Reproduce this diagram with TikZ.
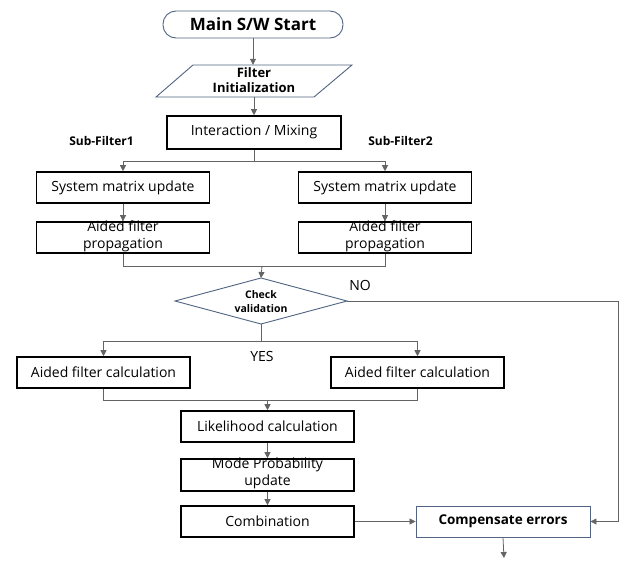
\documentclass[tikz,border=0pt]{standalone}
\usepackage{fontspec}
\setmainfont{Open Sans}
\usetikzlibrary{arrows.meta}
\definecolor{bluegrey}{RGB}{80,100,130}
\definecolor{linegrey}{RGB}{100,100,100}
\tikzset{
  procbox/.style={draw=black, line width=1.6pt, fill=white, minimum width=173pt, minimum height=31pt, inner sep=0pt, align=center, font=\fontsize{14}{17}\selectfont},
  softbox/.style={draw=bluegrey, line width=0.9pt, fill=white, minimum width=174pt, minimum height=31pt, inner sep=0pt, align=center, font=\bfseries\fontsize{13.5}{16}\selectfont},
  conn/.style={draw=linegrey, line width=0.8pt},
  arr/.style={conn, -{Triangle[width=6pt,length=6pt]}},
  boxtext/.style={inner sep=0pt, align=center, font=\fontsize{14}{17}\selectfont},
  lbl/.style={font=\fontsize{14}{16}\selectfont, inner sep=0pt},
  blbl/.style={font=\bfseries\fontsize{12}{14}\selectfont, inner sep=0pt}
}
\begin{document}
\begin{tikzpicture}[x=1pt,y=-1pt]
\useasboundingbox (0,0) rectangle (622,568);
\fill[white] (0,0) rectangle (622,568);

% start
\node[draw=bluegrey, line width=0.9pt, rounded corners=13pt, minimum width=180pt, minimum height=27pt, inner sep=0pt, font=\bfseries\fontsize{17}{19}\selectfont] (start) at (253,24.5) {Main S/W Start};

% initialization (parallelogram)
\draw[bluegrey, line width=0.9pt, fill=white] (193,65) -- (352,65) -- (314,97) -- (156,97) -- cycle;
\node[minimum width=120pt, minimum height=32pt, inner sep=0pt] (init) at (254,81) {};
\node[inner sep=0pt, align=center, font=\bfseries\fontsize{13}{15}\selectfont] at ([yshift=1pt]init.center) {Filter\\Initialization};

\node[procbox, minimum width=174pt, minimum height=33pt] (inter) at (254,132.5) {Interaction / Mixing};
\node[blbl] (sf1) at (101.5,141) {Sub-Filter1};
\node[blbl] (sf2) at (400.5,141) {Sub-Filter2};

\node[procbox] (sys1) at (123,187.5) {System matrix update};
\node[procbox] (sys2) at (385,187.5) {System matrix update};
\node[procbox] (prop1) at (123,237.5) {};
\node[boxtext] at ([yshift=1.5pt]prop1.center) {Aided filter\\propagation};
\node[procbox] (prop2) at (385,237.5) {};
\node[boxtext] at ([yshift=1.5pt]prop2.center) {Aided filter\\propagation};

% diamond
\coordinate (ctop) at (261,278);
\coordinate (cbot) at (261,324);
\coordinate (cleft) at (175,301);
\coordinate (cright) at (347,301);
\draw[bluegrey, line width=0.9pt, fill=white] (ctop) -- (cright) -- (cbot) -- (cleft) -- cycle;
\node[align=center, inner sep=0pt, font=\bfseries\fontsize{10.5}{14}\selectfont] (check) at (261,301.5) {Check\\validation};
\node[lbl] (yes) at (262,356) {YES};
\node[lbl] (no) at (360,285) {NO};

\node[procbox] (calc1) at (103.5,372.5) {Aided filter calculation};
\node[procbox] (calc2) at (417.5,372.5) {Aided filter calculation};

\node[procbox] (like) at (267.5,426.5) {Likelihood calculation};
\node[procbox, minimum height=32pt] (mode) at (267.5,475) {};
\node[boxtext] at ([yshift=1.5pt]mode.center) {Mode Probability\\update};
\node[procbox] (comb) at (267.5,521.5) {Combination};
\node[softbox] (comp) at (503,521.5) {Compensate errors};
\coordinate (endpt) at (504,558);

% connectors
\draw[arr] (start.south) -- (start.south |- init.north);
\draw[arr] (init.south) -- (init.south |- inter.north);
\coordinate (split1) at (254,161);
\draw[conn] (inter.south) -- (split1);
\draw[arr] (split1) -| (sys1.north);
\draw[arr] (split1) -| (sys2.north);
\draw[arr] (sys1) -- (prop1);
\draw[arr] (sys2) -- (prop2);
\coordinate (merge1) at (262,266);
\draw[conn] (prop1.south) |- (merge1);
\draw[conn] (prop2.south) |- (merge1);
\draw[arr] (merge1) -- (ctop);
\coordinate (split2) at (261,341);
\draw[conn] (cbot) -- (split2);
\draw[arr] (split2) -| (calc1.north);
\draw[arr] (split2) -| (calc2.north);
\coordinate (merge2) at (267.5,400);
\draw[conn] (calc1.south) |- (merge2);
\draw[conn] (calc2.south) |- (merge2);
\draw[arr] (merge2) -- (like.north);
\draw[arr] (like) -- (mode);
\draw[arr] (mode) -- (comb);
\draw[arr] (comb) -- (comp);
\coordinate (nocorner) at (618,301);
\draw[arr] (cright) -- (nocorner) |- (comp.east);
\draw[arr] (comp.south) -- (endpt);
\end{tikzpicture}
\end{document}
